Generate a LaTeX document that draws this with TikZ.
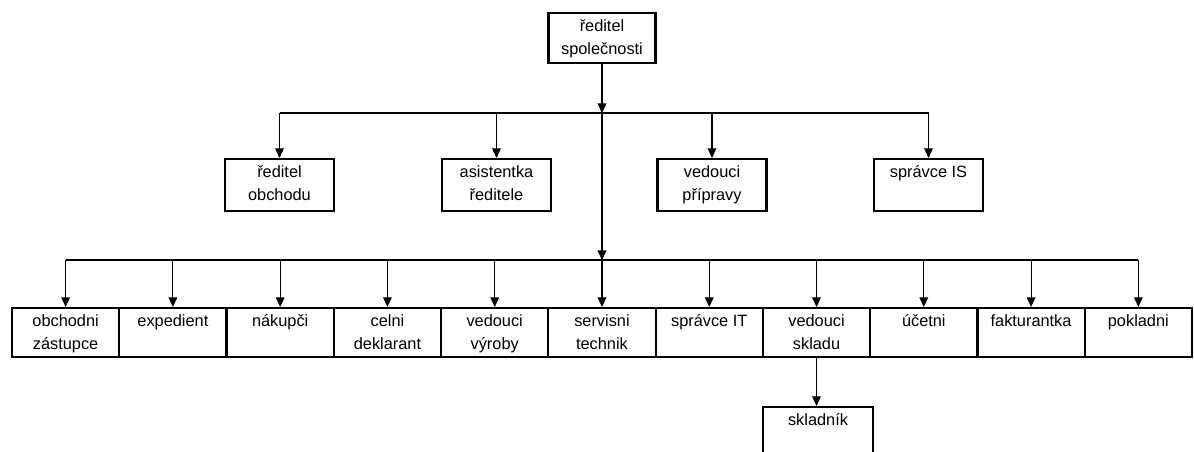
\documentclass[tikz,border=0pt]{standalone}
\usepackage{fontspec}
\setmainfont{Liberation Sans}
\usetikzlibrary{arrows.meta}
\tikzset{
  orgbox/.style={draw, line width=1.2pt, inner sep=0pt, font=\fontsize{9.3}{13}\selectfont},
  link/.style={line width=0.6pt},
  arr/.style={link, -{Triangle[width=5pt,length=5.5pt]}}
}
% text sits at the top of each box
\newcommand{\boxtext}[3]{\parbox[c][#2][t]{#1}{\centering\rule{0pt}{10.8pt}#3}}
\begin{document}
\begin{tikzpicture}[x=0.02cm, y=-0.02cm]
            \useasboundingbox (0,0) rectangle (1194,452);
            \node[orgbox] (reditel) at (602,38) {\boxtext{2.14cm}{1cm}{ředitel\\společnosti}};
            \node[orgbox] (r1) at (279.5,185) {\boxtext{2.18cm}{1.04cm}{ředitel\\obchodu}};
            \node[orgbox] (r2) at (496.5,185) {\boxtext{2.18cm}{1.04cm}{asistentka\\ředitele}};
            \node[orgbox] (r3) at (712,185) {\boxtext{2.18cm}{1.04cm}{vedouci\\přípravy}};
            \node[orgbox] (r4) at (928.5,185) {\boxtext{2.18cm}{1.04cm}{správce IS}};
            \foreach \t [count=\i] in {{obchodni\\zástupce}, expedient, nákupči, {celni\\deklarant},
                {vedouci\\výroby}, {servisni\\technik}, správce IT, {vedouci\\skladu}, účetni,
                fakturantka, pokladni}
                \node[orgbox] (p\i) at ({12+107.27*(\i-0.5)},332.5) {\boxtext{2.1455cm}{0.98cm}{\t}};
            \node[orgbox] (skladnik) at (818,432) {\boxtext{2.2cm}{1cm}{skladník}};
            \coordinate (hub1) at (reditel.south |- 0,113);
            \coordinate (hub2) at (reditel.south |- 0,260);
            \draw[arr] (reditel.south) -- (hub1);
            \draw[arr] (hub1) -- (hub2);
            \draw[link] (r1.north |- hub1) -- (r4.north |- hub1);
            \foreach \n in {r1,r2,r3,r4}
                \draw[arr] (\n.north |- hub1) -- (\n.north);
            \draw[link] (p1.north |- hub2) -- (p11.north |- hub2);
            \foreach \i in {1,...,11}
                \draw[arr] (p\i.north |- hub2) -- (p\i.north);
            \draw[arr] (p8.south) -- (p8.south |- skladnik.north);
        \end{tikzpicture}
\end{document}
